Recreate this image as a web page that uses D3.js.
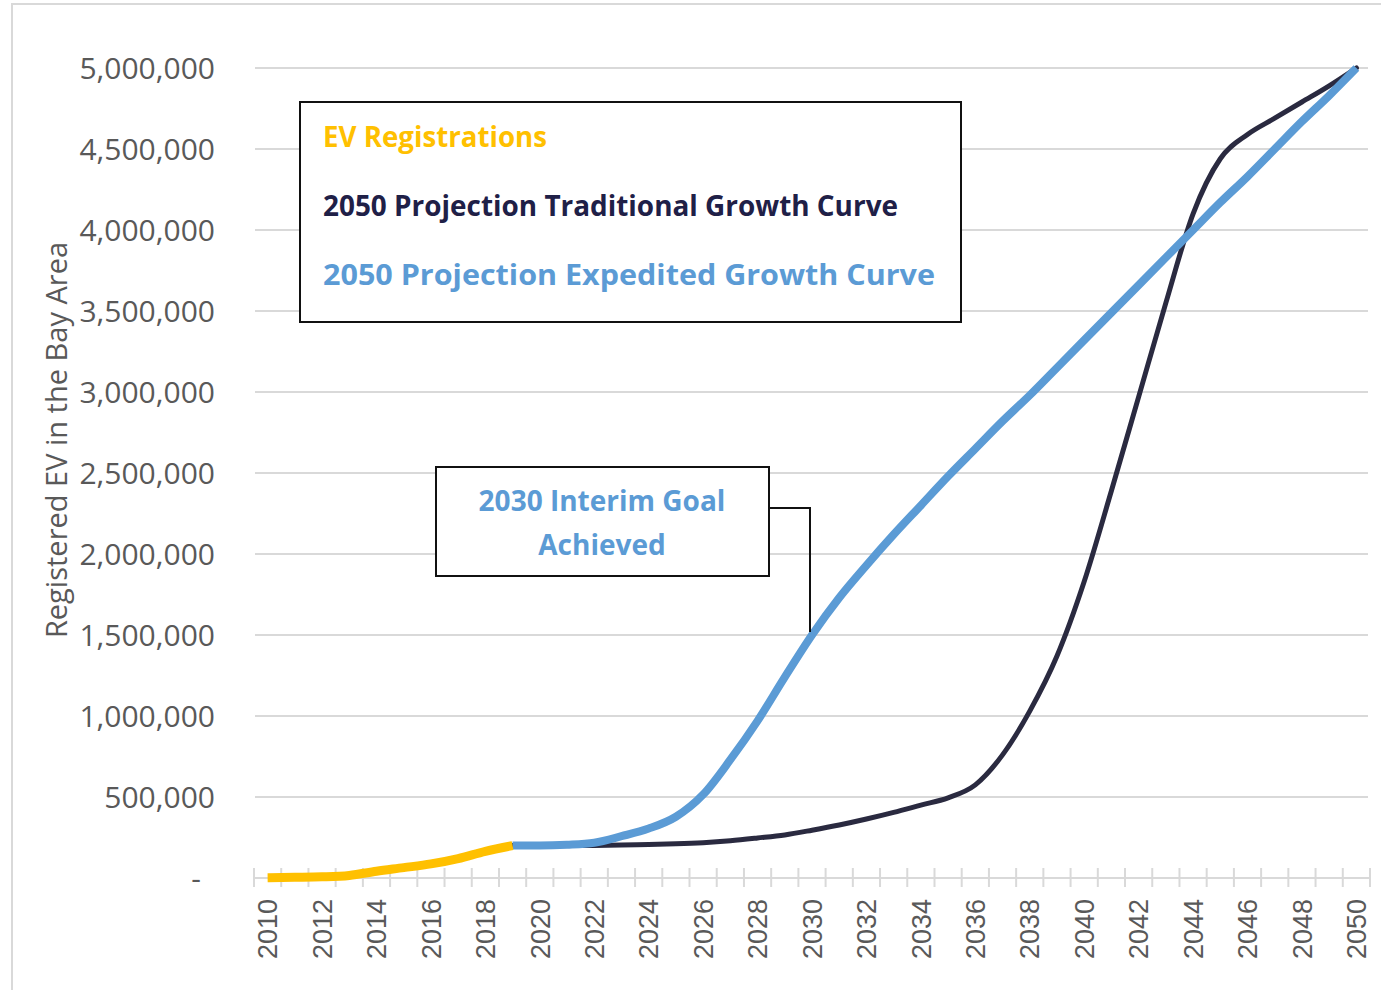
<!DOCTYPE html>
<html>
<head>
<meta charset="utf-8">
<script src="https://cdn.jsdelivr.net/npm/d3@7"></script>
<style>
	body { margin: 0; background: #fff; }
	svg { display: block; }
</style>
</head>
<body>
<div id="chart"></div>
<script>
// data
var years = d3.range(2010, 2051);
var regYears = [2010, 2011, 2012, 2013, 2014, 2015, 2016, 2017, 2018, 2019];
var evRegistrations = [2000, 4000, 7000, 16000, 42000, 64000, 87000, 120000, 165000, 200000];

var projYears = [2019, 2020, 2021, 2022, 2023, 2024, 2025, 2026, 2027, 2028, 2029, 2030,
	2031, 2032, 2033, 2034, 2035, 2036, 2037, 2038, 2039, 2040,
	2041, 2042, 2043, 2044, 2045, 2046, 2047, 2048, 2049, 2050];
var traditional = [200000, 200000, 200000, 201000, 203000, 207000, 211000, 218000, 230000, 247000, 266000, 295000,
	327000, 364000, 405000, 450000, 495000, 575000, 760000, 1030000, 1370000, 1830000,
	2390000, 2970000, 3550000, 4100000, 4440000, 4590000, 4690000, 4790000, 4890000, 5000000];
var expedited = [200000, 200000, 205000, 218000, 258000, 305000, 378000, 515000, 730000, 970000, 1240000, 1500000,
	1730000, 1930000, 2120000, 2300000, 2480000, 2650000, 2820000, 2980000, 3150000, 3320000,
	3490000, 3660000, 3830000, 4000000, 4170000, 4330000, 4500000, 4670000, 4830000, 5000000];

var yTicks = [0, 500000, 1000000, 1500000, 2000000, 2500000, 3000000, 3500000, 4000000, 4500000, 5000000];
var legendLabels = ["EV Registrations", "2050 Projection Traditional Growth Curve", "2050 Projection Expedited Growth Curve"];
var legendWidths = [224, 575, 612];
var noteLines = ["2030 Interim Goal", "Achieved"];

var W = 1381, H = 990;
var colYellow = "#ffc000", colDark = "#2a2a40", colBlue = "#5b9bd5";
var gridCol = "#d9d9d9", labelCol = "#595959";

var svg = d3.select("#chart").append("svg")
	.attr("width", W)
	.attr("height", H);

// outer frame
svg.append("rect")
	.attr("x", 12).attr("y", 4)
	.attr("width", W + 20).attr("height", H + 20)
	.attr("fill", "#fff")
	.attr("stroke", gridCol)
	.attr("stroke-width", 2);

var x = d3.scaleBand()
	.domain(years)
	.range([254, 1370])
	.padding(0);

var y = d3.scaleLinear()
	.domain([0, 5000000])
	.range([878, 68]);

function xc(yr) { return x(yr) + x.bandwidth() / 2; }

// gridlines
svg.append("g")
	.selectAll("line")
	.data(yTicks.slice(1))
	.enter().append("line")
	.attr("x1", 255).attr("x2", 1368)
	.attr("y1", function(d) { return y(d); })
	.attr("y2", function(d) { return y(d); })
	.attr("stroke", gridCol)
	.attr("stroke-width", 2);

// y labels
svg.append("g")
	.selectAll("text")
	.data(yTicks)
	.enter().append("text")
	.attr("x", function(d) { return d === 0 ? 201 : 215; })
	.attr("y", function(d) { return y(d); })
	.attr("dy", "0.36em")
	.attr("text-anchor", "end")
	.attr("fill", labelCol)
	.style("font-family", "'Open Sans', sans-serif")
	.style("font-size", "30px")
	.text(function(d) { return d === 0 ? "-" : d3.format(",")(d); });

// y title
svg.append("text")
	.attr("transform", "translate(67,440) rotate(-90)")
	.attr("text-anchor", "middle")
	.attr("fill", labelCol)
	.style("font-family", "'Open Sans', sans-serif")
	.style("font-size", "29px")
	.text("Registered EV in the Bay Area");

// x axis line and ticks at band edges
var xAxis = svg.append("g");
xAxis.append("line")
	.attr("x1", 254).attr("x2", 1370)
	.attr("y1", 878).attr("y2", 878)
	.attr("stroke", gridCol)
	.attr("stroke-width", 2);
xAxis.selectAll(".tick")
	.data(years.concat([2051]))
	.enter().append("line")
	.attr("class", "tick")
	.attr("x1", function(d) { return d === 2051 ? 1370 : x(d); })
	.attr("x2", function(d) { return d === 2051 ? 1370 : x(d); })
	.attr("y1", 868).attr("y2", 887)
	.attr("stroke", gridCol)
	.attr("stroke-width", 2);
xAxis.selectAll(".lbl")
	.data(years.filter(function(d) { return d % 2 === 0; }))
	.enter().append("text")
	.attr("class", "lbl")
	.attr("transform", function(d) { return "translate(" + xc(d) + ",899) rotate(-90)"; })
	.attr("dy", "0.36em")
	.attr("text-anchor", "end")
	.attr("fill", labelCol)
	.style("font-family", "'Liberation Sans', Arial, sans-serif")
	.style("font-size", "27px")
	.text(function(d) { return d; });

// lines
var line = d3.line()
	.curve(d3.curveMonotoneX)
	.x(function(d) { return xc(d[0]); })
	.y(function(d) { return y(d[1]); });

svg.append("path")
	.datum(d3.zip(projYears, traditional))
	.attr("d", line)
	.attr("fill", "none")
	.attr("stroke", colDark)
	.attr("stroke-width", 5)
	.attr("stroke-linecap", "round");

svg.append("path")
	.datum(d3.zip(projYears, expedited))
	.attr("d", line)
	.attr("fill", "none")
	.attr("stroke", colBlue)
	.attr("stroke-width", 8)
	.attr("stroke-linecap", "butt");

svg.append("path")
	.datum(d3.zip(regYears, evRegistrations))
	.attr("d", line)
	.attr("fill", "none")
	.attr("stroke", colYellow)
	.attr("stroke-width", 9)
	.attr("stroke-linecap", "butt");

// legend box
var legend = svg.append("g");
legend.append("rect")
	.attr("x", 300).attr("y", 102)
	.attr("width", 661).attr("height", 220)
	.attr("fill", "#fff")
	.attr("stroke", "#111")
	.attr("stroke-width", 2);
legend.selectAll("text")
	.data(legendLabels)
	.enter().append("text")
	.attr("x", 323)
	.attr("y", function(d, i) { return 147 + i * 69; })
	.attr("textLength", function(d, i) { return legendWidths[i]; })
	.attr("lengthAdjust", "spacingAndGlyphs")
	.attr("fill", function(d, i) { return [colYellow, "#1f2047", colBlue][i]; })
	.style("font-family", "'Open Sans', sans-serif")
	.style("font-weight", "bold")
	.style("font-size", "29px")
	.text(function(d) { return d; });

// annotation
var note = svg.append("g");
note.append("polyline")
	.attr("points", [[769, 508], [810, 508], [810, y(1500000) - 3]].join(" "))
	.attr("fill", "none")
	.attr("stroke", "#111")
	.attr("stroke-width", 2);
note.append("rect")
	.attr("x", 436).attr("y", 467)
	.attr("width", 333).attr("height", 109)
	.attr("fill", "#fff")
	.attr("stroke", "#111")
	.attr("stroke-width", 2);
note.selectAll("text")
	.data(noteLines)
	.enter().append("text")
	.attr("x", 602)
	.attr("y", function(d, i) { return 511 + i * 44; })
	.attr("text-anchor", "middle")
	.attr("fill", colBlue)
	.style("font-family", "'Open Sans', sans-serif")
	.style("font-weight", "bold")
	.style("font-size", "28px")
	.text(function(d) { return d; });
</script>
</body>
</html>
